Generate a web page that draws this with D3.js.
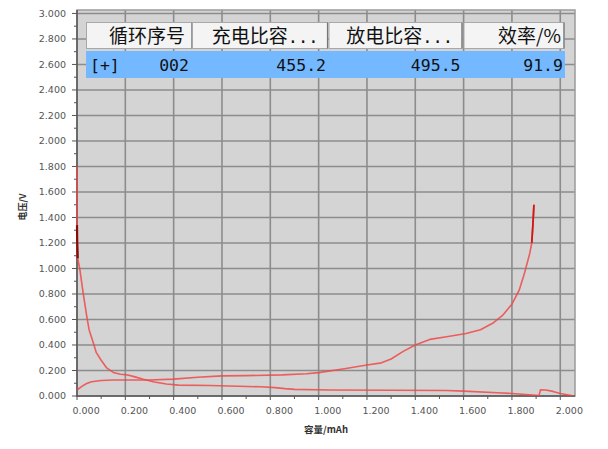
<!DOCTYPE html>
<html><head><meta charset="utf-8">
<script src="https://cdn.jsdelivr.net/npm/d3@7"></script>
<style>html,body{margin:0;padding:0;background:#fff;}svg{display:block;}</style>
</head><body>
<svg id="c" width="608" height="449"></svg>
<script>
// ---- data ----
const xTicks = [0,0.2,0.4,0.6,0.8,1.0,1.2,1.4,1.6,1.8,2.0];
const yTicks = [0,0.2,0.4,0.6,0.8,1.0,1.2,1.4,1.6,1.8,2.0,2.2,2.4,2.6,2.8,3.0];
const tableHeaders = ["循环序号","充电比容...","放电比容...","效率/%"];
const tableRow = ["002","455.2","495.5","91.9"];
const chargeCurve = [
  [0,0.047],[0.02,0.075],[0.04,0.098],[0.06,0.112],[0.1,0.122],[0.15,0.125],[0.3,0.125],
  [0.4,0.132],[0.5,0.147],[0.6,0.158],[0.7,0.16],[0.85,0.166],[0.95,0.175],[1.0,0.183],
  [1.1,0.212],[1.2,0.243],[1.26,0.26],[1.3,0.29],[1.35,0.35],[1.4,0.40],[1.46,0.444],
  [1.53,0.465],[1.61,0.49],[1.67,0.52],[1.72,0.57],[1.76,0.63],[1.8,0.72],[1.83,0.83],
  [1.85,0.95],[1.874,1.12],[1.882,1.2],[1.887,1.35],[1.891,1.5]
];
const dischargeCurve = [
  [0,1.8],[0,1.34],[0.001,1.2],[0.003,1.08],[0.012,0.99],[0.026,0.80],[0.04,0.63],[0.05,0.52],
  [0.067,0.42],[0.08,0.34],[0.1,0.28],[0.123,0.22],[0.15,0.185],[0.18,0.17],[0.21,0.165],
  [0.24,0.15],[0.274,0.131],[0.32,0.11],[0.37,0.094],[0.42,0.085],[0.55,0.082],[0.67,0.077],
  [0.76,0.072],[0.82,0.066],[0.86,0.058],[0.9,0.052],[1.05,0.047],[1.3,0.045],[1.53,0.043],
  [1.6,0.038],[1.74,0.026],[1.8,0.02],[1.9,0.005],[1.912,0.003],[1.918,0.048],[1.94,0.047],
  [1.97,0.036],[2.0,0.02],[2.057,0]
];

// ---- layout ----
const svg = d3.select("#c");
const L = 77, R = 575, T = 10, B = 396;
const x = d3.scaleLinear().domain([0, 2.061]).range([L, R]);
const y = d3.scaleLinear().domain([0, 3.027]).range([B, T]);

svg.append("rect").attr("width",608).attr("height",449).attr("fill","#fff");
svg.append("rect").attr("x",L).attr("y",T).attr("width",R-L).attr("height",B-T)
  .attr("fill","#d4d4d4");

// grid
const g = svg.append("g");
g.selectAll(".gx").data(xTicks.filter(d=>d>0)).join("line")
  .attr("x1",d=>x(d)).attr("x2",d=>x(d)).attr("y1",T).attr("y2",B)
  .attr("stroke","#8c8c8c").attr("stroke-width",1.6);
g.selectAll(".gy").data(yTicks.filter(d=>d>0)).join("line")
  .attr("x1",L).attr("x2",R).attr("y1",d=>y(d)).attr("y2",d=>y(d))
  .attr("stroke","#8c8c8c").attr("stroke-width",1.6);

// frame
svg.append("rect").attr("x",L).attr("y",T).attr("width",R-L).attr("height",B-T)
  .attr("fill","none").attr("stroke","#9a9a9a").attr("stroke-width",1.5);

// axes lines & ticks
svg.append("line").attr("x1",L).attr("x2",L).attr("y1",T).attr("y2",B+1).attr("stroke","#555").attr("stroke-width",1.5);
svg.append("line").attr("x1",L).attr("x2",R).attr("y1",B).attr("y2",B).attr("stroke","#555").attr("stroke-width",1.5);

const yMinor = d3.range(0.1, 3.0, 0.2);
const xMinor = d3.range(0.1, 2.0, 0.2);
svg.selectAll(".ty").data(yTicks).join("line")
  .attr("x1",L-5).attr("x2",L).attr("y1",d=>y(d)).attr("y2",d=>y(d)).attr("stroke","#555");
svg.selectAll(".tym").data(yMinor).join("line")
  .attr("x1",L-3).attr("x2",L).attr("y1",d=>y(d)).attr("y2",d=>y(d)).attr("stroke","#555");
svg.selectAll(".tx").data(xTicks).join("line")
  .attr("x1",d=>x(d)).attr("x2",d=>x(d)).attr("y1",B).attr("y2",B+4).attr("stroke","#555");
svg.selectAll(".txm").data(xMinor).join("line")
  .attr("x1",d=>x(d)).attr("x2",d=>x(d)).attr("y1",B).attr("y2",B+3).attr("stroke","#555");

const tickFont = "DejaVu Sans";
svg.selectAll(".ly").data(yTicks).join("text")
  .attr("x",66).attr("y",d=>y(d)).attr("dy","0.35em")
  .attr("text-anchor","end").attr("font-family",tickFont).attr("font-size",9.5)
  .attr("fill","#555").text(d=>d3.format(".3f")(d));
svg.selectAll(".lx").data(xTicks).join("text")
  .attr("x",d=>x(d)-4.5).attr("y",413.5)
  .attr("text-anchor","start").attr("font-family",tickFont).attr("font-size",9.5)
  .attr("fill","#555").text(d=>d3.format(".3f")(d));

// axis titles
svg.append("text").attr("transform","translate(26,207) rotate(-90)")
  .attr("text-anchor","middle").attr("font-family","Noto Sans CJK SC").attr("font-size",9)
  .attr("fill","#333").attr("font-weight","bold").text("电压/V");
svg.append("text").attr("x",326).attr("y",433)
  .attr("text-anchor","middle").attr("font-family","Noto Sans CJK SC").attr("font-size",9.5)
  .attr("fill","#333").attr("font-weight","bold").text("容量/mAh");

// curves
const line = d3.line().x(d=>x(d[0])).y(d=>y(d[1]));
svg.append("clipPath").attr("id","pc").append("rect")
  .attr("x",L-2).attr("y",T).attr("width",R-L+2).attr("height",B-T);
const cg = svg.append("g").attr("clip-path","url(#pc)");
[chargeCurve, dischargeCurve].forEach(c=>{
  cg.append("path").attr("d",line(c)).attr("fill","none")
    .attr("stroke","#f04848").attr("stroke-opacity",0.85).attr("stroke-width",1.6)
    .attr("stroke-linejoin","round");
});
cg.append("path").attr("d",line(chargeCurve.filter(d=>d[1]>=1.2))).attr("fill","none")
  .attr("stroke","#d01818").attr("stroke-width",1.8);
cg.append("path").attr("d",line(dischargeCurve.filter(d=>d[1]>=1.08 && d[1]<=1.34))).attr("fill","none")
  .attr("stroke","#8a0a0a").attr("stroke-width",2.2);

// table overlay
const colL = [86.5,192.5,329,464];
const colR = [192,327.5,462,564];
const hdrY = 22.5, hdrH = 26, rowY = 51, rowH = 27;
svg.append("rect").attr("x",86).attr("y",rowY).attr("width",479).attr("height",rowH).attr("fill","#74b9ff");
tableHeaders.forEach((h,i)=>{
  svg.append("rect").attr("x",colL[i]).attr("y",hdrY).attr("width",colR[i]-colL[i]).attr("height",hdrH)
    .attr("fill","#f4f4f4").attr("stroke","#a8a8a8").attr("stroke-width",1);
  svg.append("line").attr("x1",colR[i]).attr("x2",colR[i]).attr("y1",hdrY).attr("y2",hdrY+hdrH)
    .attr("stroke","#777").attr("stroke-width",1.2);
  const m = h.match(/^(.*?)(\.\.\.)?$/);
  const t = svg.append("text").attr("x",colR[i]-(i==0?7:i==3?3:9)).attr("y",hdrY+20)
    .attr("text-anchor","end").attr("font-family","Noto Sans CJK SC").attr("font-size",19)
    .attr("fill","#111");
  t.append("tspan").text(m[1]);
  if (m[2]) t.append("tspan").attr("font-family","DejaVu Sans Mono").attr("font-size",17).text(m[2]);
});
svg.append("text").attr("x",90).attr("y",rowY+20).attr("font-family","DejaVu Sans Mono")
  .attr("font-size",16.5).attr("fill","#111").text("[+]");
tableRow.forEach((v,i)=>{
  svg.append("text").attr("x",colR[i]-(i==0?3:i==3?1:1.5)).attr("y",rowY+20)
    .attr("text-anchor","end").attr("font-family","DejaVu Sans Mono").attr("font-size",16.5)
    .attr("fill","#111").text(v);
});
</script>
</body></html>
